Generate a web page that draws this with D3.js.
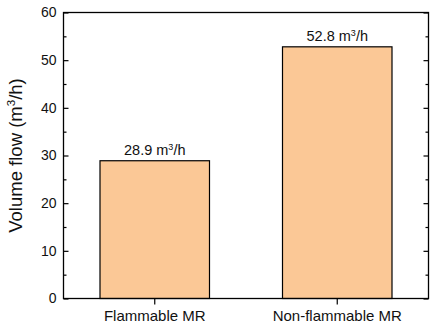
<!DOCTYPE html>
<html><head><meta charset="utf-8">
<script src="https://cdn.jsdelivr.net/npm/d3@7"></script>
<style>body{margin:0;background:#fff}svg{display:block;font-family:"Liberation Sans",Arial,sans-serif}</style>
</head><body><svg id="c" width="435" height="326"></svg>
<script>
const categories = ["Flammable MR", "Non-flammable MR"];
const values = [28.9, 52.8];
const valueLabels = ["28.9", "52.8"];
const yTicks = [0, 10, 20, 30, 40, 50, 60];
const yMinorTicks = [5, 15, 25, 35, 45, 55];

const svg = d3.select("#c");
const L = 63.5, R = 428.5, T = 12.5, B = 298.5;
const x = d3.scaleBand().domain(categories).range([L, R]).paddingInner(0.4).paddingOuter(0.2);
const y = d3.scaleLinear().domain([0, 60]).range([B, T]);

// bars
svg.append("g").selectAll("rect").data(values).join("rect")
  .attr("x", (d, i) => x(categories[i]))
  .attr("y", d => y(d))
  .attr("width", x.bandwidth())
  .attr("height", d => y(0) - y(d))
  .attr("fill", "#fbc896").attr("stroke", "#000").attr("stroke-width", 1.2);

// value labels
const lab = svg.append("g").selectAll("text").data(values).join("text")
  .attr("x", (d, i) => x(categories[i]) + x.bandwidth() / 2)
  .attr("y", d => y(d) - 6)
  .attr("text-anchor", "middle").attr("font-size", 14.5).attr("fill", "#111");
lab.append("tspan").text((d, i) => valueLabels[i] + " m");
lab.append("tspan").attr("font-size", 9).attr("dy", -5).text("3");
lab.append("tspan").attr("dy", 5).text("/h");

// frame
svg.append("rect").attr("x", L).attr("y", T).attr("width", R - L).attr("height", B - T)
  .attr("fill", "none").attr("stroke", "#000").attr("stroke-width", 1.3);

// left axis
const yl = svg.append("g").attr("transform", `translate(${L},0)`)
  .call(d3.axisLeft(y).tickValues(yTicks).tickSizeInner(-5).tickSizeOuter(0).tickPadding(7));
yl.select(".domain").remove();
yl.selectAll("text").attr("font-size", 14).attr("font-family", "Liberation Sans, Arial, sans-serif").attr("fill", "#111");
yl.selectAll("line").attr("stroke-width", 1.2);
const ylm = svg.append("g").attr("transform", `translate(${L},0)`)
  .call(d3.axisLeft(y).tickValues(yMinorTicks).tickSizeInner(-3).tickSizeOuter(0).tickFormat(""));
ylm.select(".domain").remove();
ylm.selectAll("line").attr("stroke-width", 1.2);

// right axis
const yr = svg.append("g").attr("transform", `translate(${R},0)`)
  .call(d3.axisRight(y).tickValues(yTicks).tickSizeInner(-5).tickSizeOuter(0).tickFormat(""));
yr.select(".domain").remove();
yr.selectAll("line").attr("stroke-width", 1.2);
const yrm = svg.append("g").attr("transform", `translate(${R},0)`)
  .call(d3.axisRight(y).tickValues(yMinorTicks).tickSizeInner(-3).tickSizeOuter(0).tickFormat(""));
yrm.select(".domain").remove();
yrm.selectAll("line").attr("stroke-width", 1.2);

// bottom axis
const xb = svg.append("g").attr("transform", `translate(0,${B})`)
  .call(d3.axisBottom(x).tickSizeInner(6).tickSizeOuter(0).tickPadding(6));
xb.select(".domain").remove();
xb.selectAll("text").attr("font-size", 15).attr("font-family", "Liberation Sans, Arial, sans-serif").attr("fill", "#111");
xb.selectAll("line").attr("stroke-width", 1.2);

// y title
const yt = svg.append("text").attr("transform", `translate(22,${(T + B) / 2}) rotate(-90)`)
  .attr("text-anchor", "middle").attr("font-size", 18.5).attr("fill", "#111");
yt.append("tspan").text("Volume flow (m");
yt.append("tspan").attr("font-size", 11.5).attr("dy", -7).text("3");
yt.append("tspan").attr("dy", 7).text("/h)");
</script></body></html>
